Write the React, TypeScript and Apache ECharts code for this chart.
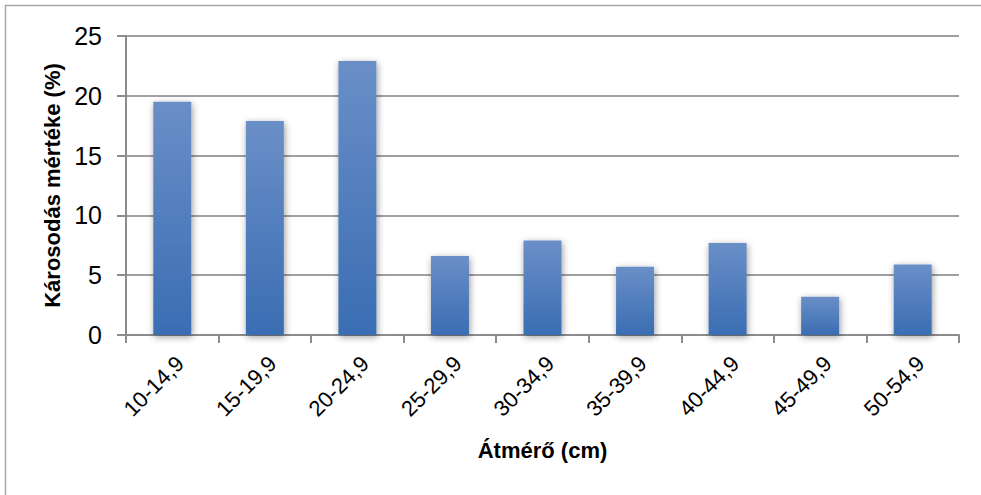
import React, { useEffect, useRef } from "react";
import * as echarts from "echarts";

const categories = ["10-14,9", "15-19,9", "20-24,9", "25-29,9", "30-34,9", "35-39,9", "40-44,9", "45-49,9", "50-54,9"];
const values = [19.5, 17.9, 22.9, 6.6, 7.9, 5.7, 7.7, 3.2, 5.9];
const yTitle = "Károsodás mértéke (%)";
const xTitle = "Átmérő (cm)";

const FONT = "'Liberation Sans', Arial, sans-serif";

export default function App() {
  const ref = useRef<HTMLDivElement>(null);
  useEffect(() => {
    if (!ref.current) return;
    const chart = echarts.init(ref.current, null, { renderer: "svg" });
    chart.setOption({
      animation: false,
      backgroundColor: "#ffffff",
      graphic: [
        {
          type: "rect",
          shape: { x: 5.5, y: 5.5, width: 990, height: 500 },
          style: { fill: "none", stroke: "#a6a6a6", lineWidth: 1.5 },
          silent: true,
          z: -1,
        },
      ],
      grid: { left: 126, right: 22, top: 36, bottom: 160, containLabel: false },
      xAxis: {
        type: "category",
        data: categories,
        axisLine: { lineStyle: { color: "#8c8c8c", width: 2 } },
        axisTick: { show: true, length: 8, lineStyle: { color: "#8c8c8c", width: 2 } },
        axisLabel: {
          rotate: 45,
          margin: 17,
          fontSize: 22,
          color: "#000",
          fontFamily: FONT,
          verticalAlign: "top",
        },
        name: xTitle,
        nameLocation: "middle",
        nameGap: 104,
        nameTextStyle: { fontSize: 22, fontWeight: "bold", color: "#000", fontFamily: FONT },
      },
      yAxis: {
        type: "value",
        min: 0,
        max: 25,
        interval: 5,
        axisLine: { show: true, lineStyle: { color: "#8c8c8c", width: 2 } },
        axisTick: { show: true, length: 9, lineStyle: { color: "#8c8c8c", width: 2 } },
        splitLine: { show: true, lineStyle: { color: "#a0a0a0", width: 2 } },
        axisLabel: { margin: 24, fontSize: 25, color: "#000", fontFamily: FONT },
        name: yTitle,
        nameLocation: "middle",
        nameGap: 60,
        nameTextStyle: { fontSize: 22, fontWeight: "bold", color: "#000", fontFamily: FONT },
      },
      series: [
        {
          type: "bar",
          data: values,
          barWidth: 38,
          itemStyle: {
            color: new echarts.graphic.LinearGradient(0, 0, 0, 1, [
              { offset: 0, color: "#6a8fc7" },
              { offset: 1, color: "#3a6db3" },
            ]),
            shadowBlur: 7,
            shadowColor: "rgba(0,0,0,0.4)",
            shadowOffsetX: 1,
            shadowOffsetY: 2,
          },
        },
      ],
    });
    return () => chart.dispose();
  }, []);
  return <div ref={ref} style={{ position: "fixed", left: 0, top: 0, width: 981, height: 495 }} />;
}
